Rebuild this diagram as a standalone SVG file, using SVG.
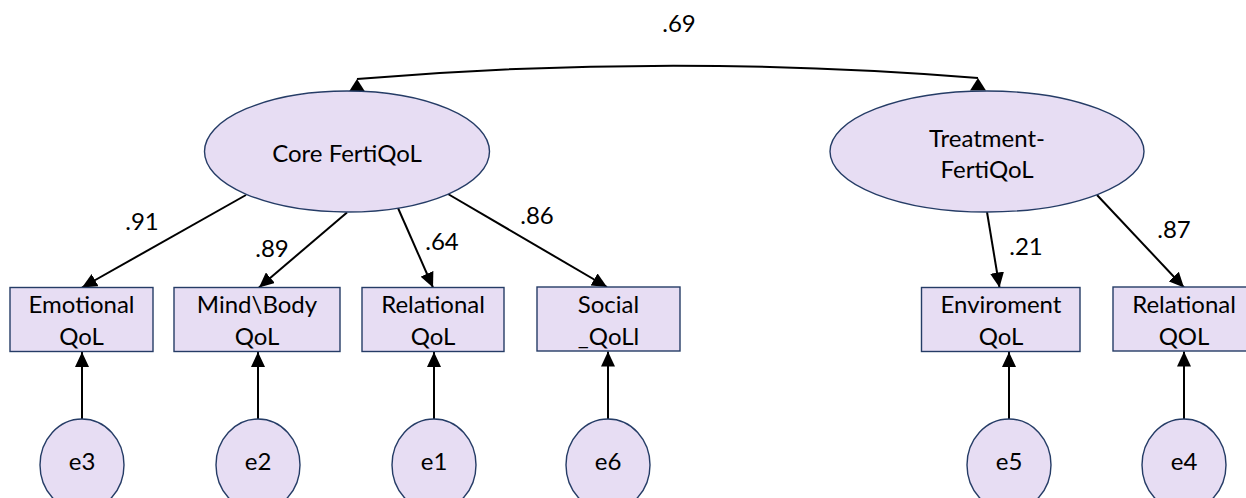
<svg xmlns="http://www.w3.org/2000/svg" width="1246" height="498" viewBox="0 0 1246 498">
<style>
.shape{fill:#E7DDF3;stroke:#253C66;stroke-width:1.4}
.t{font-family:Lato,"Liberation Sans",sans-serif;font-size:24px;fill:#000;text-anchor:middle}
.c{fill:none;stroke:#000;stroke-width:2}
</style>
<defs>
<marker id="ah" markerUnits="userSpaceOnUse" markerWidth="15" markerHeight="14" viewBox="0 0 15 14" refX="15" refY="7" orient="auto">
<path d="M0,0 L15,7 L0,14 z" fill="#000"/>
</marker>
<marker id="up" markerUnits="userSpaceOnUse" markerWidth="17" markerHeight="13" viewBox="-8.5 0 17 13" refX="0" refY="0" orient="0">
<path d="M0,0 L8,12.5 L-8,12.5 z" fill="#000"/>
</marker>
</defs>
<g id="connectors">
<path class="c" d="M357,79 Q667,53 978,78" marker-start="url(#up)" marker-end="url(#up)"/>
<line class="c" x1="246" y1="195" x2="82" y2="287.5" marker-end="url(#ah)"/>
<line class="c" x1="347" y1="212.5" x2="259" y2="287.5" marker-end="url(#ah)"/>
<line class="c" x1="398" y1="208" x2="433" y2="287.5" marker-end="url(#ah)"/>
<line class="c" x1="448" y1="194" x2="607" y2="287" marker-end="url(#ah)"/>
<line class="c" x1="987" y1="212" x2="999.5" y2="287.5" marker-end="url(#ah)"/>
<line class="c" x1="1097" y1="195" x2="1184" y2="287.5" marker-end="url(#ah)"/>
<line class="c" x1="82" y1="419" x2="82" y2="352" marker-end="url(#ah)"/>
<line class="c" x1="258" y1="419" x2="258" y2="352" marker-end="url(#ah)"/>
<line class="c" x1="434" y1="419" x2="434" y2="352" marker-end="url(#ah)"/>
<line class="c" x1="608" y1="419" x2="608" y2="351.5" marker-end="url(#ah)"/>
<line class="c" x1="1009" y1="419" x2="1009" y2="352" marker-end="url(#ah)"/>
<line class="c" x1="1184" y1="419" x2="1184" y2="351.5" marker-end="url(#ah)"/>
<text class="t" x="679" y="32">.69</text>
<text class="t" x="142" y="230">.91</text>
<text class="t" x="272" y="257">.89</text>
<text class="t" x="442" y="250">.64</text>
<text class="t" x="537" y="224">.86</text>
<text class="t" x="1026" y="255">.21</text>
<text class="t" x="1174" y="238">.87</text>
</g>
<g id="core">
<ellipse class="shape" cx="347" cy="151.5" rx="142.5" ry="60.5"/>
<text class="t" x="347" y="162">Core FertiQoL</text>
</g>
<g id="treatment">
<ellipse class="shape" cx="987" cy="151.5" rx="157" ry="60.5"/>
<text class="t" x="987" y="147">Treatment-</text>
<text class="t" x="987" y="178">FertiQoL</text>
</g>
<g id="emotional">
<rect class="shape" x="10" y="287.5" width="143" height="64"/>
<text class="t" x="81.5" y="313">Emotional</text>
<text class="t" x="81.5" y="345">QoL</text>
</g>
<g id="mindbody">
<rect class="shape" x="174" y="287.5" width="166" height="64"/>
<text class="t" x="257" y="313">Mind\Body</text>
<text class="t" x="257" y="345">QoL</text>
</g>
<g id="relational">
<rect class="shape" x="362" y="287.5" width="142" height="64"/>
<text class="t" x="433" y="313">Relational</text>
<text class="t" x="433" y="345">QoL</text>
</g>
<g id="social">
<rect class="shape" x="537" y="287" width="143" height="64"/>
<text class="t" x="608.5" y="313">Social</text>
<text class="t" x="608.5" y="345">_QoLl</text>
</g>
<g id="enviroment">
<rect class="shape" x="921.5" y="287.5" width="158.5" height="64"/>
<text class="t" x="1001" y="313">Enviroment</text>
<text class="t" x="1001" y="345">QoL</text>
</g>
<g id="relational2">
<rect class="shape" x="1113" y="287" width="142" height="64"/>
<text class="t" x="1184" y="313">Relational</text>
<text class="t" x="1184" y="345">QOL</text>
</g>
<g id="e3"><ellipse class="shape" cx="82" cy="465" rx="42" ry="46"/><text class="t" x="82" y="470">e3</text></g>
<g id="e2"><ellipse class="shape" cx="258" cy="465" rx="42" ry="46"/><text class="t" x="258" y="470">e2</text></g>
<g id="e1"><ellipse class="shape" cx="434" cy="465" rx="42" ry="46"/><text class="t" x="434" y="470">e1</text></g>
<g id="e6"><ellipse class="shape" cx="608" cy="465" rx="42" ry="46"/><text class="t" x="608" y="470">e6</text></g>
<g id="e5"><ellipse class="shape" cx="1009" cy="465" rx="42" ry="46"/><text class="t" x="1009" y="470">e5</text></g>
<g id="e4"><ellipse class="shape" cx="1184" cy="465" rx="42" ry="46"/><text class="t" x="1184" y="470">e4</text></g>
</svg>
